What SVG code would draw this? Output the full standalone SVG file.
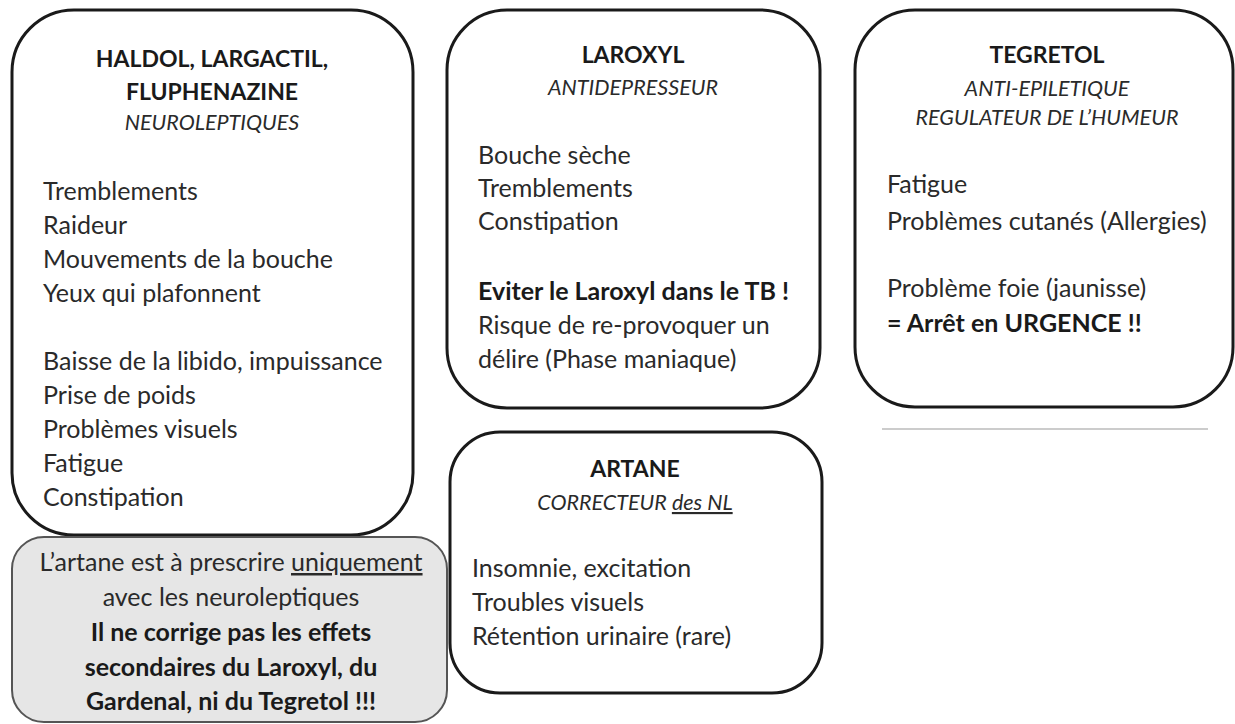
<svg xmlns="http://www.w3.org/2000/svg" width="1235" height="724" viewBox="0 0 1235 724">
<style>
.box{fill:#fff;stroke:#1a1a1a;stroke-width:3}
.note{fill:#e6e6e6;stroke:#555;stroke-width:2}
text{font-family:Lato,"Open Sans",sans-serif;fill:#2a2a2a;font-size:25px}
.t{font-weight:bold;text-anchor:middle;font-size:23px;fill:#1a1a1a}
.s{font-style:italic;text-anchor:middle;font-size:21.5px}
.b{font-weight:bold;fill:#1a1a1a}
.c{text-anchor:middle}
</style>
<rect width="1235" height="724" fill="#fff"/>
<g id="neuroleptiques">
<rect class="box" x="12" y="10" width="401" height="525" rx="62"/>
<text class="t" x="212" y="67">HALDOL, LARGACTIL,</text>
<text class="t" x="212" y="100">FLUPHENAZINE</text>
<text class="s" x="212" y="130">NEUROLEPTIQUES</text>
<text x="43" y="200">Tremblements</text>
<text x="43" y="234">Raideur</text>
<text x="43" y="268">Mouvements de la bouche</text>
<text x="43" y="302">Yeux qui plafonnent</text>
<text x="43" y="370">Baisse de la libido, impuissance</text>
<text x="43" y="404">Prise de poids</text>
<text x="43" y="438">Problèmes visuels</text>
<text x="43" y="472">Fatigue</text>
<text x="43" y="506">Constipation</text>
</g>
<g id="note">
<rect class="note" x="12" y="537" width="435" height="185" rx="32"/>
<text class="c" x="231" y="571">L’artane est à prescrire <tspan text-decoration="underline">uniquement</tspan></text>
<text class="c" x="231" y="606">avec les neuroleptiques</text>
<text class="c b" x="231" y="641">Il ne corrige pas les effets</text>
<text class="c b" x="231" y="676">secondaires du Laroxyl, du</text>
<text class="c b" x="231" y="710">Gardenal, ni du Tegretol !!!</text>
</g>
<g id="laroxyl">
<rect class="box" x="447" y="10" width="373" height="398" rx="60"/>
<text class="t" x="633" y="63">LAROXYL</text>
<text class="s" x="633" y="95">ANTIDEPRESSEUR</text>
<text x="478" y="164">Bouche sèche</text>
<text x="478" y="197">Tremblements</text>
<text x="478" y="230">Constipation</text>
<text class="b" x="478" y="300">Eviter le Laroxyl dans le TB !</text>
<text x="478" y="334">Risque de re-provoquer un</text>
<text x="478" y="368">délire (Phase maniaque)</text>
</g>
<g id="tegretol">
<rect class="box" x="855" y="10" width="378" height="397" rx="60"/>
<text class="t" x="1047" y="63">TEGRETOL</text>
<text class="s" x="1047" y="96">ANTI-EPILETIQUE</text>
<text class="s" x="1047" y="125">REGULATEUR DE L’HUMEUR</text>
<text x="887" y="193">Fatigue</text>
<text x="887" y="230">Problèmes cutanés (Allergies)</text>
<text x="887" y="297">Problème foie (jaunisse)</text>
<text class="b" x="887" y="332">= Arrêt en URGENCE !!</text>
<line x1="882" y1="429" x2="1208" y2="429" stroke="#bbb" stroke-width="1.5"/>
</g>
<g id="artane">
<rect class="box" x="450" y="432" width="372" height="261" rx="50"/>
<text class="t" x="635" y="477">ARTANE</text>
<text class="s" x="635" y="510">CORRECTEUR <tspan text-decoration="underline">des NL</tspan></text>
<text x="472" y="577">Insomnie, excitation</text>
<text x="472" y="611">Troubles visuels</text>
<text x="472" y="645">Rétention urinaire (rare)</text>
</g>
<g id="connectors"/>
</svg>
